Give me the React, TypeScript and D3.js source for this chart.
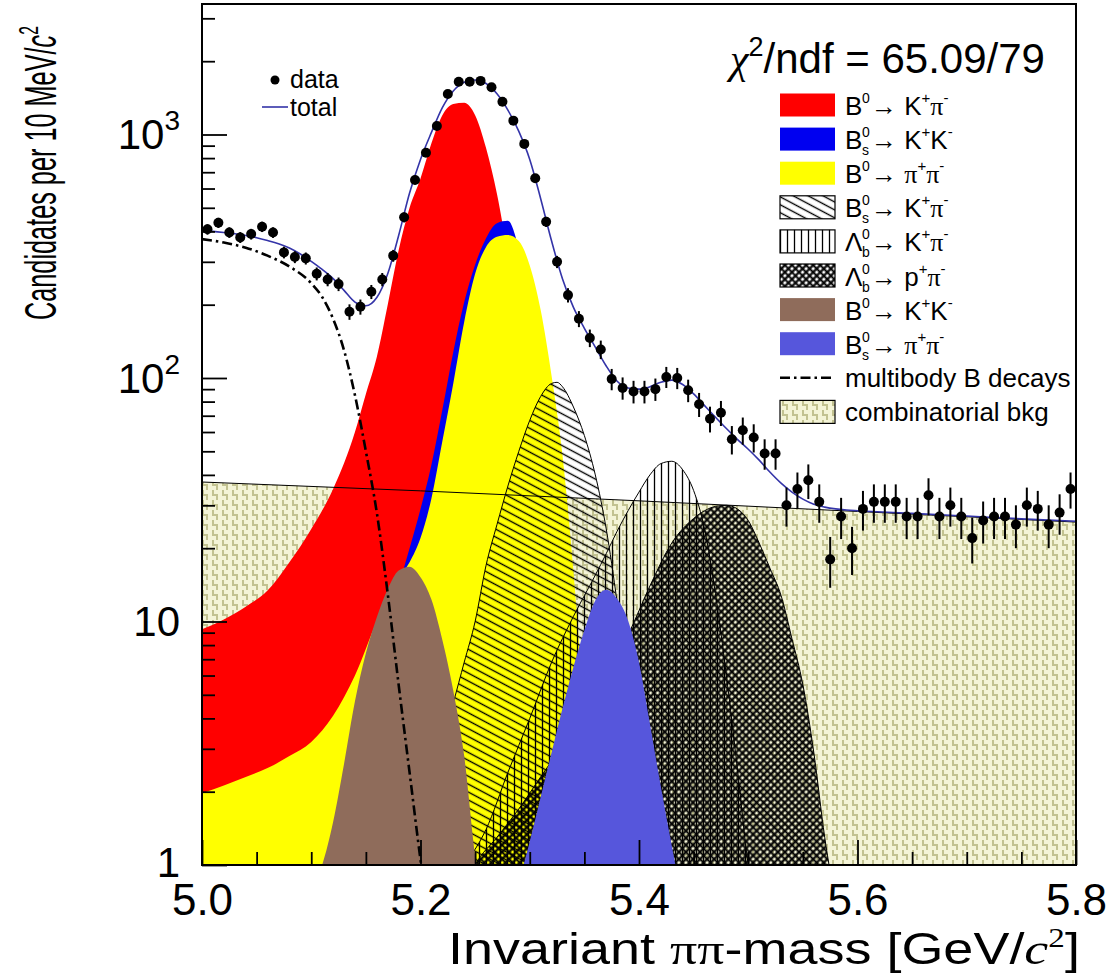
import React, { useEffect, useRef } from "react";
import * as d3 from "d3";

type Pt = [number, number];

// histogram: 10 MeV bins from 5.00 to 5.80
const binStart = 5.0;
const binWidth = 0.01;
const dataCounts = [
  408, 434, 396, 378, 390, 418, 396, 328, 314, 310,
  268, 254, 243, 187, 196, 226, 254, 318, 457, 650,
  842, 1084, 1466, 1648, 1648, 1660, 1563, 1364, 1140, 915,
  661, 438, 300, 219, 175, 146, 131, 99, 91, 88,
  88, 90, 101, 100, 89, 78, 68, 72, 56, 61,
  57, 49, 49, 30, 35, 38, 31, 18, 27, 20,
  29, 31, 31, 31, 27, 27, 33, 27, 30, 27,
  22, 26, 27, 27, 25, 30, 29, 25, 28, 35,
];

const totalFit: Pt[] = [
  [5.0, 402], [5.01, 400], [5.02, 396], [5.03, 391], [5.04, 385], [5.05, 377],
  [5.06, 367], [5.07, 356], [5.08, 342], [5.09, 323], [5.1, 301], [5.11, 279],
  [5.12, 256], [5.13, 229], [5.14, 205], [5.15, 198], [5.16, 214], [5.17, 268],
  [5.18, 385], [5.19, 575], [5.2, 790], [5.21, 1020], [5.22, 1290], [5.23, 1510],
  [5.24, 1640], [5.25, 1675], [5.26, 1620], [5.27, 1470], [5.28, 1260], [5.29, 1030],
  [5.3, 790], [5.31, 545], [5.32, 365], [5.33, 255], [5.34, 195], [5.35, 160],
  [5.36, 134], [5.37, 112], [5.38, 97], [5.39, 91], [5.4, 90], [5.41, 92],
  [5.42, 96], [5.43, 98], [5.44, 94], [5.45, 86], [5.46, 77], [5.47, 69],
  [5.48, 62], [5.49, 56], [5.5, 51], [5.51, 46], [5.52, 41], [5.53, 37],
  [5.54, 34], [5.55, 31.8], [5.56, 30.3], [5.57, 29.5], [5.58, 29.0], [5.59, 28.7],
  [5.6, 28.5], [5.65, 27.8], [5.7, 27.1], [5.75, 26.4], [5.8, 25.8],
];

const multibody: Pt[] = [
  [5.0, 372], [5.02, 360], [5.04, 343], [5.06, 318], [5.08, 287], [5.1, 245],
  [5.11, 215], [5.12, 175], [5.13, 130], [5.14, 85], [5.15, 50], [5.16, 28],
  [5.17, 13], [5.18, 5.5], [5.19, 2.4], [5.2, 1.05], [5.21, 0.5],
];

const combBkg: Pt[] = [[5.0, 37.4], [5.2, 34.4], [5.4, 31.3], [5.6, 28.3], [5.8, 25.6]];

const bdKpi: Pt[] = [
  [5.0, 9.3], [5.02, 10.2], [5.04, 11.5], [5.06, 13.4], [5.08, 17.5], [5.1, 24],
  [5.12, 35], [5.14, 60], [5.15, 86], [5.16, 122], [5.17, 200], [5.18, 335],
  [5.19, 500], [5.2, 660], [5.21, 920], [5.22, 1200], [5.23, 1335], [5.24, 1350],
  [5.25, 1200], [5.26, 880], [5.27, 570], [5.28, 320], [5.29, 170], [5.3, 85],
  [5.32, 22], [5.34, 5], [5.36, 1.2], [5.37, 0.8],
];

const bsKK: Pt[] = [
  [5.0, 1.2], [5.05, 1.5], [5.1, 2.0], [5.15, 5], [5.18, 14], [5.19, 20],
  [5.2, 29], [5.21, 44], [5.22, 74], [5.23, 128], [5.24, 205], [5.25, 292],
  [5.26, 375], [5.27, 432], [5.28, 442], [5.29, 340], [5.3, 210], [5.31, 100],
  [5.32, 35], [5.33, 10], [5.34, 2.5], [5.35, 0.8],
];

const bdPipi: Pt[] = [
  [5.0, 1.97], [5.02, 2.12], [5.04, 2.3], [5.06, 2.5], [5.08, 2.8], [5.1, 3.2],
  [5.12, 4.1], [5.14, 6.0], [5.16, 10], [5.18, 15], [5.19, 17.5], [5.2, 22],
  [5.21, 32], [5.22, 55], [5.23, 95], [5.24, 170], [5.25, 268], [5.26, 345],
  [5.27, 380], [5.28, 387], [5.29, 365], [5.3, 290], [5.31, 190], [5.32, 102],
  [5.33, 48], [5.34, 16], [5.35, 4.2], [5.36, 1.3], [5.37, 0.8],
];

const bsKpi: Pt[] = [
  [5.18, 1.0], [5.2, 1.7], [5.22, 3.2], [5.24, 6.8], [5.25, 10], [5.26, 17],
  [5.27, 25], [5.28, 36], [5.29, 50], [5.3, 67], [5.31, 84], [5.32, 95],
  [5.325, 96], [5.33, 92], [5.34, 76], [5.35, 58], [5.36, 40], [5.37, 24],
  [5.38, 12], [5.39, 5.5], [5.4, 2.3], [5.41, 1.0], [5.42, 0.6],
];

const lbKpi: Pt[] = [
  [5.24, 1.0], [5.26, 1.4], [5.28, 2.4], [5.3, 4.0], [5.32, 6.8], [5.34, 10.5],
  [5.36, 15.5], [5.37, 19], [5.38, 23.5], [5.39, 28.5], [5.4, 34], [5.41, 40],
  [5.42, 44.5], [5.43, 45.5], [5.44, 42], [5.45, 34.5], [5.46, 24], [5.47, 13],
  [5.48, 6], [5.49, 2.5], [5.5, 1.0], [5.51, 0.6],
];

const lbPpi: Pt[] = [
  [5.24, 0.8], [5.25, 1.0], [5.27, 1.3], [5.29, 1.7], [5.31, 2.3], [5.33, 3.1],
  [5.35, 4.2], [5.37, 6.0], [5.39, 8.8], [5.41, 14], [5.43, 21], [5.45, 26.5],
  [5.46, 28.5], [5.47, 29.7], [5.48, 30], [5.49, 29], [5.5, 26], [5.51, 21],
  [5.52, 16.5], [5.53, 12.8], [5.54, 8.5], [5.55, 5.5], [5.56, 2.9], [5.57, 1.3],
  [5.58, 0.7],
];

const bdKK: Pt[] = [
  [5.1, 0.8], [5.11, 1.0], [5.12, 1.5], [5.13, 2.6], [5.14, 4.7], [5.15, 7.4],
  [5.16, 10.4], [5.17, 13.6], [5.18, 16.2], [5.19, 16.8], [5.2, 15.2], [5.21, 12.3],
  [5.22, 8.4], [5.23, 5.2], [5.24, 2.8], [5.25, 1.1], [5.26, 0.6],
];

const bsPipi: Pt[] = [
  [5.28, 0.6], [5.29, 0.85], [5.3, 1.25], [5.31, 1.9], [5.32, 2.9], [5.33, 4.4],
  [5.34, 6.5], [5.35, 9.2], [5.36, 12.2], [5.37, 13.5], [5.38, 12.4], [5.39, 10.1],
  [5.4, 6.8], [5.41, 3.8], [5.42, 2.1], [5.43, 1.2], [5.44, 0.7],
];

const xMajorTicks = [5.0, 5.2, 5.4, 5.6, 5.8];
const xTickLabels = ["5.0", "5.2", "5.4", "5.6", "5.8"];
const yMajorTicks = [1, 10, 100, 1000];
const yTickLabels: [string, string][] = [["1", ""], ["10", ""], ["10", "2"], ["10", "3"]];

const legendRows = [
  { style: "red", parent: "B", sub: "", prod: [["K", "+"], ["π", "-"]] },
  { style: "blue", parent: "B", sub: "s", prod: [["K", "+"], ["K", "-"]] },
  { style: "yellow", parent: "B", sub: "", prod: [["π", "+"], ["π", "-"]] },
  { style: "diag", parent: "B", sub: "s", prod: [["K", "+"], ["π", "-"]] },
  { style: "vert", parent: "Λ", sub: "b", prod: [["K", "+"], ["π", "-"]] },
  { style: "cross", parent: "Λ", sub: "b", prod: [["p", "+"], ["π", "-"]] },
  { style: "brown", parent: "B", sub: "", prod: [["K", "+"], ["K", "-"]] },
  { style: "lblue", parent: "B", sub: "s", prod: [["π", "+"], ["π", "-"]] },
];

const SANS = "'Liberation Sans', Arial, Helvetica, sans-serif";
const SERIF = "'Liberation Serif', 'Times New Roman', serif";

const colors: Record<string, string> = {
  red: "#ff0000",
  blue: "#0000f0",
  yellow: "#ffff00",
  brown: "#8f6c5b",
  lblue: "#5656dc",
  total: "#3434a8",
};

const App: React.FC = () => {
  const chartRef = useRef<SVGSVGElement | null>(null);

  useEffect(() => {
    document.body.style.margin = "0";
    const svg = d3.select(chartRef.current);
    svg.selectAll("*").remove();

    const x = d3.scaleLinear().domain([5.0, 5.8]).range([202, 1076]);
    const y = d3.scaleLog().domain([1, 3435]).range([865, 4]);
    const [x0, x1] = x.range();
    const [yb, yt] = y.range();

    const defs = svg.append("defs");
    defs
      .append("clipPath")
      .attr("id", "plotClip")
      .append("rect")
      .attr("x", x0)
      .attr("y", yt)
      .attr("width", x1 - x0)
      .attr("height", yb - yt);

    // hatch patterns
    const pc = defs
      .append("pattern")
      .attr("id", "combPat")
      .attr("patternUnits", "userSpaceOnUse")
      .attr("width", 10)
      .attr("height", 10);
    pc.append("rect").attr("width", 10).attr("height", 10).attr("fill", "#f4f4d6");
    pc.append("path")
      .attr("d", "M3,0 V5 H7 V10")
      .attr("stroke", "#c2c290")
      .attr("stroke-width", 2)
      .attr("fill", "none");

    const pd = defs
      .append("pattern")
      .attr("id", "diagPat")
      .attr("patternUnits", "userSpaceOnUse")
      .attr("width", 12)
      .attr("height", 7)
      .attr("patternTransform", "rotate(28)");
    pd.append("line")
      .attr("x1", 0).attr("y1", 3.5).attr("x2", 12).attr("y2", 3.5)
      .attr("stroke", "#000").attr("stroke-width", 1.4);

    const pv = defs
      .append("pattern")
      .attr("id", "vertPat")
      .attr("patternUnits", "userSpaceOnUse")
      .attr("width", 7)
      .attr("height", 10);
    pv.append("line")
      .attr("x1", 3.5).attr("y1", 0).attr("x2", 3.5).attr("y2", 10)
      .attr("stroke", "#000").attr("stroke-width", 1.3);

    const px = defs
      .append("pattern")
      .attr("id", "crossPat")
      .attr("patternUnits", "userSpaceOnUse")
      .attr("width", 5)
      .attr("height", 5)
      .attr("patternTransform", "rotate(45)");
    px.append("path")
      .attr("d", "M0,2.5 H5 M2.5,0 V5")
      .attr("stroke", "#000")
      .attr("stroke-width", 2.2);

    const area = d3
      .area<Pt>()
      .x((d) => x(d[0]))
      .y0(yb)
      .y1((d) => y(Math.max(d[1], 0.4)))
      .curve(d3.curveMonotoneX);
    const line = d3
      .line<Pt>()
      .x((d) => x(d[0]))
      .y((d) => y(Math.max(d[1], 0.4)))
      .curve(d3.curveMonotoneX);

    const plot = svg.append("g").attr("clip-path", "url(#plotClip)");

    // combinatorial background
    plot.append("path").datum(combBkg).attr("d", area.curve(d3.curveLinear)).attr("fill", "url(#combPat)");
    area.curve(d3.curveMonotoneX);

    plot.append("path").datum(bdKpi).attr("d", area).attr("fill", colors.red);
    plot.append("path").datum(bsKK).attr("d", area).attr("fill", colors.blue);
    plot.append("path").datum(bdPipi).attr("d", area).attr("fill", colors.yellow);

    plot.append("path").datum(combBkg).attr("d", line.curve(d3.curveLinear))
      .attr("fill", "none").attr("stroke", "#000").attr("stroke-width", 1);
    line.curve(d3.curveMonotoneX);

    const hatched: [Pt[], string][] = [
      [bsKpi, "diagPat"],
      [lbKpi, "vertPat"],
      [lbPpi, "crossPat"],
    ];
    hatched.forEach(([d, id]) => {
      plot.append("path").datum(d).attr("d", area).attr("fill", `url(#${id})`);
      plot.append("path").datum(d).attr("d", line)
        .attr("fill", "none").attr("stroke", "#000").attr("stroke-width", 1);
    });

    plot.append("path").datum(bdKK).attr("d", area).attr("fill", colors.brown);
    plot.append("path").datum(bsPipi).attr("d", area).attr("fill", colors.lblue);

    plot.append("path").datum(multibody).attr("d", line)
      .attr("fill", "none").attr("stroke", "#000").attr("stroke-width", 2.6)
      .attr("stroke-dasharray", "10,4,2.5,4");

    plot.append("path").datum(totalFit).attr("d", line)
      .attr("fill", "none").attr("stroke", colors.total).attr("stroke-width", 1.6);

    // data points with sqrt(N) errors
    const pts = dataCounts.map((n, i) => ({ m: binStart + (i + 0.5) * binWidth, n }));
    const pg = plot.append("g");
    pg.selectAll("line.err")
      .data(pts)
      .enter()
      .append("line")
      .attr("x1", (d) => x(d.m))
      .attr("x2", (d) => x(d.m))
      .attr("y1", (d) => y(d.n + Math.sqrt(d.n)))
      .attr("y2", (d) => y(d.n - Math.sqrt(d.n)))
      .attr("stroke", "#000")
      .attr("stroke-width", 2);
    pg.selectAll("circle")
      .data(pts)
      .enter()
      .append("circle")
      .attr("cx", (d) => x(d.m))
      .attr("cy", (d) => y(d.n))
      .attr("r", 5)
      .attr("fill", "#000");

    // axes (ticks inward, ROOT style)
    const xMinor = d3.range(0, 17).map((i) => 5.0 + i * 0.05).filter((v) => !xMajorTicks.some((t) => Math.abs(t - v) < 1e-6));
    const axX = svg.append("g").attr("transform", `translate(0,${yb})`);
    axX.append("g").call(d3.axisBottom(x).tickValues(xMinor).tickSize(-13).tickFormat(() => ""));
    axX.append("g").call(
      d3.axisBottom(x).tickValues(xMajorTicks).tickSize(-25).tickPadding(19)
        .tickFormat((_d, i) => xTickLabels[i])
    );
    axX.selectAll(".domain").remove();
    axX.selectAll("text").attr("font-size", 44).attr("font-family", SANS).attr("fill", "#000");

    const yMinor: number[] = [];
    [1, 10, 100, 1000].forEach((dec) => {
      for (let k = 2; k <= 9; k++) if (dec * k < 3435) yMinor.push(dec * k);
    });
    const axY = svg.append("g").attr("transform", `translate(${x0},0)`);
    axY.append("g").call(d3.axisLeft(y).tickValues(yMinor).tickSize(-13).tickFormat(() => ""));
    axY.append("g").call(d3.axisLeft(y).tickValues(yMajorTicks).tickSize(-25).tickFormat(() => ""));
    axY.selectAll(".domain").remove();
    svg.selectAll(".tick line").attr("stroke", "#000").attr("stroke-width", 1.8);

    yMajorTicks.forEach((v, i) => {
      const [base, sup] = yTickLabels[i];
      const t = svg.append("text")
        .attr("x", 180)
        .attr("y", y(v) + (v === 1 ? 12 : 15))
        .attr("text-anchor", "end")
        .attr("font-family", SANS)
        .attr("font-size", 42);
      t.append("tspan").text(base);
      if (sup) t.append("tspan").attr("font-size", 28).attr("dy", -19).text(sup);
    });

    svg.append("rect")
      .attr("x", x0).attr("y", yt).attr("width", x1 - x0).attr("height", yb - yt)
      .attr("fill", "none").attr("stroke", "#000").attr("stroke-width", 2);

    // axis titles (condensed to the reference widths with a scale transform)
    const xt = svg.append("text")
      .attr("font-family", SANS).attr("font-size", 44);
    xt.append("tspan").text("Invariant ");
    xt.append("tspan").attr("font-family", SERIF).text("ππ");
    xt.append("tspan").text("-mass [GeV/");
    xt.append("tspan").attr("font-family", SERIF).attr("font-style", "italic").text("c");
    xt.append("tspan").attr("font-family", SERIF).attr("font-size", 27).attr("dy", -17).text("2");
    xt.append("tspan").attr("dy", 17).text("]");
    const xtLen = (xt.node() as SVGTextElement).getComputedTextLength() || 632;
    xt.attr("transform", `translate(448,964) scale(${632 / xtLen},1)`);

    const yl = svg.append("text")
      .attr("font-family", SANS).attr("font-size", 45);
    yl.append("tspan").text("Candidates per 10 MeV/");
    yl.append("tspan").attr("font-style", "italic").text("c");
    yl.append("tspan").attr("font-size", 28).attr("dy", -18).text("2");
    const ylLen = (yl.node() as SVGTextElement).getComputedTextLength() || 294;
    yl.attr("transform", `translate(56,320) rotate(-90) scale(${294 / ylLen},1)`);

    // chi2 label
    const chi = svg.append("text")
      .attr("x", 730).attr("y", 73)
      .attr("font-family", SANS).attr("font-size", 42);
    chi.append("tspan").attr("font-family", SERIF).attr("font-style", "italic").text("χ");
    chi.append("tspan").attr("font-size", 27).attr("dy", -17).text("2");
    chi.append("tspan").attr("dy", 17).text("/ndf = 65.09/79");

    // data / total legend
    const lg1 = svg.append("g").attr("font-family", SANS).attr("font-size", 25);
    lg1.append("circle").attr("cx", 275).attr("cy", 80).attr("r", 4.5).attr("fill", "#000");
    lg1.append("text").attr("x", 290).attr("y", 88).text("data");
    lg1.append("line").attr("x1", 262).attr("x2", 288).attr("y1", 107).attr("y2", 107)
      .attr("stroke", colors.total).attr("stroke-width", 1.6);
    lg1.append("text").attr("x", 290).attr("y", 116).text("total");

    // components legend
    const lg = svg.append("g").attr("font-family", SANS).attr("fill", "#000");
    const rowY = (i: number) => 105 + i * 34.1;
    const boxX = 780, boxW = 55, boxH = 23, textX = 845, fs = 26;

    legendRows.forEach((r, i) => {
      const cy = rowY(i);
      const fill =
        r.style === "diag" ? "url(#diagPat)" :
        r.style === "vert" ? "url(#vertPat)" :
        r.style === "cross" ? "url(#crossPat)" : colors[r.style];
      const hatch = ["diag", "vert", "cross"].includes(r.style);
      lg.append("rect")
        .attr("x", boxX).attr("y", cy - boxH / 2).attr("width", boxW).attr("height", boxH)
        .attr("fill", hatch ? "#fff" : fill);
      if (hatch) {
        lg.append("rect")
          .attr("x", boxX).attr("y", cy - boxH / 2).attr("width", boxW).attr("height", boxH)
          .attr("fill", fill).attr("stroke", "#000").attr("stroke-width", 1.2);
      }
      const base = cy + 10;
      lg.append("text").attr("x", textX).attr("y", base).attr("font-size", fs).text(r.parent);
      const pw = 17;
      lg.append("text").attr("x", textX + pw).attr("y", base - 12).attr("font-size", 14).text("0");
      if (r.sub) lg.append("text").attr("x", textX + pw).attr("y", base + 6).attr("font-size", 14).text(r.sub);
      const t = lg.append("text").attr("x", textX + pw + 9).attr("y", base).attr("font-size", fs);
      t.append("tspan").text("→ ");
      r.prod.forEach(([b, c], k) => {
        t.append("tspan")
          .attr("dy", k > 0 ? 12 : 0)
          .attr("font-family", b === "π" ? SERIF : SANS)
          .text(b);
        t.append("tspan").attr("font-size", 15).attr("dy", -12).text(c);
      });
    });

    // multibody legend
    const cyM = rowY(8);
    lg.append("line").attr("x1", boxX).attr("x2", boxX + boxW).attr("y1", cyM).attr("y2", cyM)
      .attr("stroke", "#000").attr("stroke-width", 2.6).attr("stroke-dasharray", "10,4,2.5,4");
    lg.append("text").attr("x", textX).attr("y", cyM + 9).attr("font-size", fs).text("multibody B decays");

    const cyC = rowY(9);
    lg.append("rect")
      .attr("x", boxX).attr("y", cyC - boxH / 2).attr("width", boxW).attr("height", boxH)
      .attr("fill", "url(#combPat)").attr("stroke", "#000").attr("stroke-width", 1.2);
    lg.append("text").attr("x", textX).attr("y", cyC + 9).attr("font-size", fs).text("combinatorial bkg");
  }, []);

  return <svg ref={chartRef} width={1113} height={975} style={{ display: "block", background: "#fff" }} />;
};

export default App;
